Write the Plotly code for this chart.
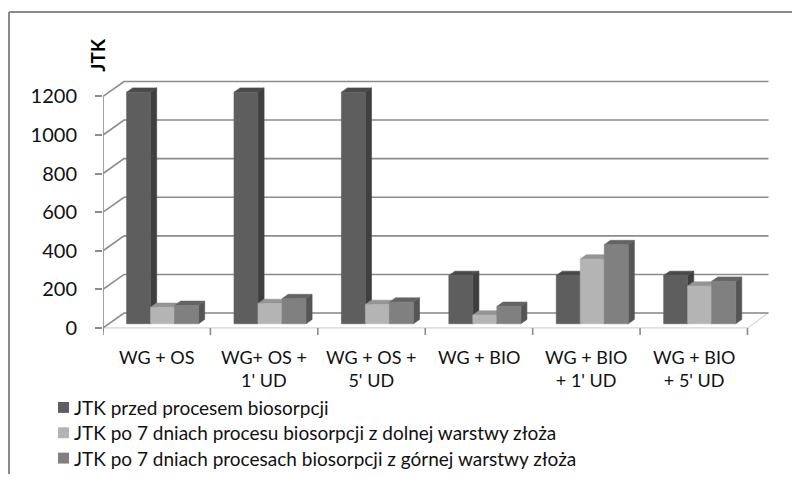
import plotly.graph_objects as go

# --- data -------------------------------------------------------------
categories = [
    "WG + OS",
    "WG+ OS +<br>1' UD",
    "WG + OS +<br>5' UD",
    "WG + BIO",
    "WG + BIO<br>+ 1' UD",
    "WG + BIO<br>+ 5' UD",
]
series_names = [
    "JTK przed procesem biosorpcji",
    "JTK po 7 dniach procesu biosorpcji z dolnej warstwy złoża",
    "JTK po 7 dniach procesach biosorpcji z górnej warstwy złoża",
]
jtk_before = [1200, 1200, 1200, 250, 250, 250]
jtk_lower = [85, 105, 100, 45, 335, 195]
jtk_upper = [95, 130, 112, 90, 410, 220]
y_ticks = [0, 200, 400, 600, 800, 1000, 1200]

series_values = [jtk_before, jtk_lower, jtk_upper]
# (front, side, top) shades for each series
series_colors = [
    ("#5e5e5e", "#3f3f3f", "#4a4a4a"),
    ("#b4b4b4", "#939393", "#959595"),
    ("#808080", "#555555", "#646464"),
]

# --- geometry of the pseudo-3D box ------------------------------------
W, H = 792, 477
px_left, px_right = 103, 772          # x-domain in pixels
px_top, px_bottom = 60, 338           # y-domain in pixels
px_zero = 330                         # pixel row of value 0 on the front plane
cat_px = (747.5 - 103) / 6            # pixels per category on the front plane
k = 233 / 1200                        # pixels per value unit

x_min = -0.5
x_max = x_min + (px_right - px_left) / cat_px
y_min = -(px_bottom - px_zero) / k
y_max = (px_zero - px_top) / k

DX = 21 / cat_px                      # wall depth (x units)
DY = 15 / k                           # wall depth (y units)
f0, f1 = 0.28, 0.57                   # bar depth span as fraction of wall depth
bar_w = 24 / cat_px
n = len(categories)

FONT = "Lato"
TEXT = "#111111"

fig = go.Figure()


def poly(xs, ys, color, width=0.6, line_color=None):
    fig.add_trace(go.Scatter(
        x=xs + [xs[0]], y=ys + [ys[0]], mode="lines", fill="toself",
        fillcolor=color, line=dict(color=line_color or color, width=width),
        hoverinfo="skip", showlegend=False))


def seg(xs, ys, color, width):
    fig.add_trace(go.Scatter(
        x=xs, y=ys, mode="lines", line=dict(color=color, width=width),
        hoverinfo="skip", showlegend=False))


# floor
x0, x1 = -0.5, n - 0.5
poly([x0, x1, x1 + DX, x0 + DX], [0, 0, DY, DY], "#ffffff", 1.2, "#d6d6d6")

# back-wall gridlines and the slanted connectors from the front axis
gx, gy = [], []
for v in y_ticks:
    gx += [x0, x0 + DX, x1 + DX, None]
    gy += [v, v + DY, v + DY, None]
seg(gx, gy, "#8c8c8c", 1.6)

# front value axis
seg([x0, x0], [y_min * 0.5, y_ticks[-1]], "#8c8c8c", 1.6)

# category boundary ticks below the floor edge
tx, ty = [], []
for i in range(n + 1):
    tx += [x0 + i, x0 + i, None]
    ty += [0, y_min * 0.9, None]
seg(tx, ty, "#8c8c8c", 1.6)

# bars, painted left to right: side, top, front
b0 = f0 * DY
bdx = (f1 - f0) * DX
bdy = (f1 - f0) * DY
for i in range(n):
    group_left = i + f0 * DX - 1.5 * bar_w
    for j, vals in enumerate(series_values):
        v = vals[i]
        front, side, top = series_colors[j]
        L = group_left + j * bar_w
        R = L + bar_w
        poly([R, R + bdx, R + bdx, R], [b0, b0 + bdy, b0 + bdy + v, b0 + v], side)
        poly([L, R, R + bdx, L + bdx], [b0 + v, b0 + v, b0 + v + bdy, b0 + v + bdy], top)
        poly([L, R, R, L], [b0, b0, b0 + v, b0 + v], front)

font = dict(family=FONT, size=20, color=TEXT)
cat_font = dict(family=FONT, size=18, color=TEXT)
legend_font = dict(family=FONT, size=19, color=TEXT)

annotations = []
# category labels under the floor
for i, label in enumerate(categories):
    annotations.append(dict(
        text=label, x=i, xref="x", y=1 - 347 / H, yref="paper",
        xanchor="center", yanchor="top", align="center", showarrow=False,
        borderpad=0, font=cat_font))

# value-axis title
annotations.append(dict(text="<b>JTK</b>", x=98 / W, y=1 - 55 / H,
                        xref="paper", yref="paper", xanchor="center",
                        yanchor="middle", showarrow=False, textangle=-90,
                        font=dict(family=FONT, size=19, color="#000")))

# legend: swatch + text per series
shapes = [
    dict(type="line", xref="paper", yref="paper", x0=9 / W, x1=9 / W,
         y0=0, y1=1 - 12 / H, line=dict(color="#8a8a8a", width=2)),
    dict(type="line", xref="paper", yref="paper", x0=9 / W, x1=1,
         y0=1 - 12 / H, y1=1 - 12 / H, line=dict(color="#8a8a8a", width=2)),
]
for r, (name, (front, _, _)) in enumerate(zip(series_names, series_colors)):
    cy = 410 + 25.5 * r
    shapes.append(dict(type="rect", xref="paper", yref="paper",
                       x0=58 / W, x1=69 / W, y0=1 - (cy + 5.5) / H,
                       y1=1 - (cy - 5.5) / H, fillcolor=front, line_width=0))
    annotations.append(dict(text=name, x=73 / W, y=1 - cy / H, xref="paper",
                            yref="paper", xanchor="left", yanchor="middle",
                            showarrow=False, borderpad=0, font=legend_font))

fig.update_layout(
    width=W, height=H,
    margin=dict(l=0, r=0, t=0, b=0),
    paper_bgcolor="white", plot_bgcolor="white",
    font=font,
    showlegend=False,
    xaxis=dict(domain=[px_left / W, px_right / W], range=[x_min, x_max],
               tickvals=list(range(n)), showticklabels=False,
               showgrid=False, zeroline=False, showline=False, ticks=""),
    yaxis=dict(domain=[1 - px_bottom / H, 1 - px_top / H], range=[y_min, y_max],
               tickvals=y_ticks, ticktext=[str(t) for t in y_ticks],
               showgrid=False, zeroline=False, showline=False,
               ticks="outside", ticklen=7, tickcolor="#8c8c8c", tickwidth=1.6,
               ticklabelstandoff=14, tickfont=font),
    annotations=annotations,
    shapes=shapes,
)

fig.write_html("out.html")
